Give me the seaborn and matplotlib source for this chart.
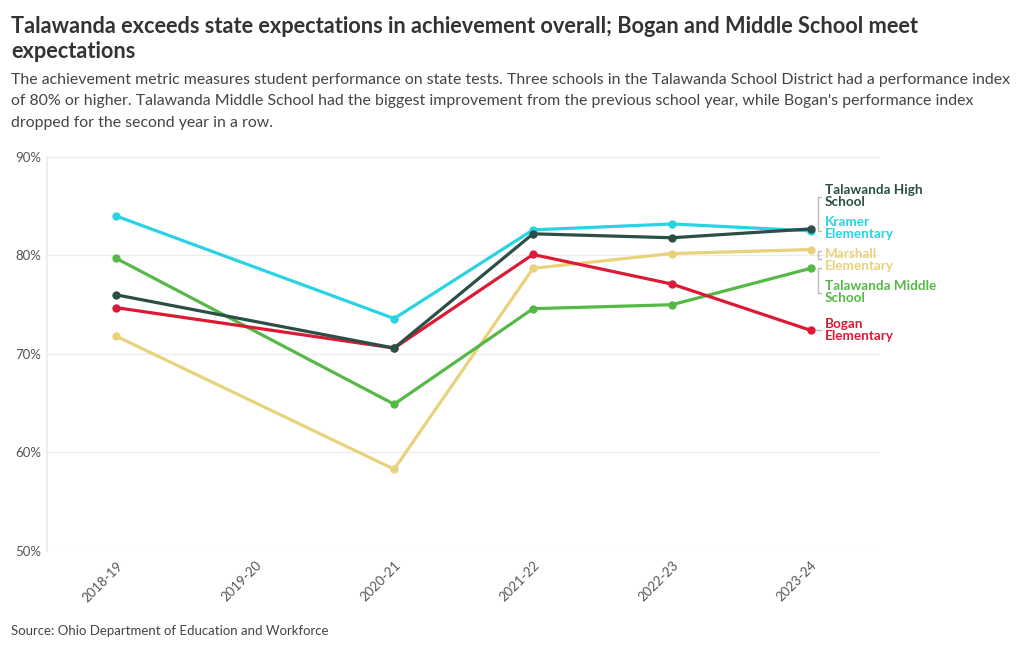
import pandas as pd
import matplotlib.pyplot as plt
import seaborn as sns

# data (2019-20 has no values)
years = ['2018-19', '2019-20', '2020-21', '2021-22', '2022-23', '2023-24']
high_school = [76.0, None, 70.6, 82.2, 81.8, 82.7]
kramer = [84.0, None, 73.6, 82.6, 83.2, 82.5]
marshall = [71.8, None, 58.3, 78.7, 80.2, 80.6]
middle_school = [79.7, None, 64.9, 74.6, 75.0, 78.7]
bogan = [74.7, None, 70.6, 80.1, 77.1, 72.4]

schools = ['Talawanda High School', 'Kramer Elementary', 'Marshall Elementary',
           'Talawanda Middle School', 'Bogan Elementary']
series = [high_school, kramer, marshall, middle_school, bogan]
colors = ['#2b4f46', '#2ad3e3', '#e8d27c', '#56b947', '#dc1a35']
labels = ['Talawanda High\nSchool', 'Kramer\nElementary', 'Marshall\nElementary',
          'Talawanda Middle\nSchool', 'Bogan\nElementary']
label_y = [86.0, 82.8, 79.5, 76.3, 72.4]

# drawing order: high school ends up on top
draw_order = ['Marshall Elementary', 'Talawanda Middle School', 'Bogan Elementary',
              'Kramer Elementary', 'Talawanda High School']

rows = []
for school, vals in zip(schools, series):
    for i, v in enumerate(vals):
        if v is not None:
            rows.append({'school': school, 'x': i, 'value': v})
df = pd.DataFrame(rows)

sns.set_theme(style='white')
plt.rcParams['font.family'] = ['Lato', 'DejaVu Sans']

fig = plt.figure(figsize=(10.2, 6.5), dpi=100)
ax = fig.add_axes([0.046, 0.1523, 0.817, 0.6062])

sns.lineplot(data=df, x='x', y='value', hue='school', hue_order=draw_order,
             palette=dict(zip(schools, colors)), marker='o', markersize=6,
             markeredgewidth=0, linewidth=2.3, legend=False, ax=ax)

ax.set_xlim(-0.5, 5.5)
ax.set_ylim(50, 90)
ax.set_yticks([50, 60, 70, 80, 90])
ax.set_yticklabels([f'{t}%' for t in [50, 60, 70, 80, 90]])
ax.set_xticks(range(len(years)))
ax.set_xticklabels(years, rotation=45, ha='right', rotation_mode='anchor')
ax.set_xlabel('')
ax.set_ylabel('')
ax.grid(axis='y', color='#ececec', linewidth=0.9)
ax.tick_params(axis='both', labelsize=9.5, colors='#555555', length=0, pad=4)
ax.tick_params(axis='x', length=4, color='#f4f4f4', pad=2)
for s in ['top', 'right', 'bottom']:
    ax.spines[s].set_visible(False)
ax.spines['left'].set_color('#ececec')

# direct labels with small connectors
for lab, ly, c in zip(labels, label_y, colors):
    ax.text(5.1, ly, lab, color=c, fontsize=9.7, fontweight='bold',
            va='center', ha='left', linespacing=1.0, clip_on=False)

bk = dict(color='#bbbbbb', linewidth=1, clip_on=False)
ax.plot([5.07, 5.055, 5.055, 5.07], [85.9, 85.9, 82.5, 82.5], **bk)
ax.plot([5.07, 5.055, 5.055, 5.07], [80.5, 80.5, 79.6, 79.6], **bk)
ax.plot([5.07, 5.055, 5.055, 5.07], [78.7, 78.7, 76.2, 76.2], **bk)
ax.plot([5.04, 5.07], [72.4, 72.4], **bk)

fig.text(0.011, 0.975, 'Talawanda exceeds state expectations in achievement overall; '
         'Bogan and Middle School meet\nexpectations',
         fontsize=15.7, fontweight='bold', color='#333333', va='top', linespacing=1.2)
fig.text(0.011, 0.888, 'The achievement metric measures student performance on state tests. '
         'Three schools in the Talawanda School District had a performance index\n'
         'of 80% or higher. Talawanda Middle School had the biggest improvement from the '
         'previous school year, while Bogan\'s performance index\n'
         'dropped for the second year in a row.',
         fontsize=11.4, color='#444444', va='top', linespacing=1.68)
fig.text(0.011, 0.029, 'Source: Ohio Department of Education and Workforce',
         fontsize=9.5, color='#444444', va='center')

fig.savefig('out.png', dpi=100)
